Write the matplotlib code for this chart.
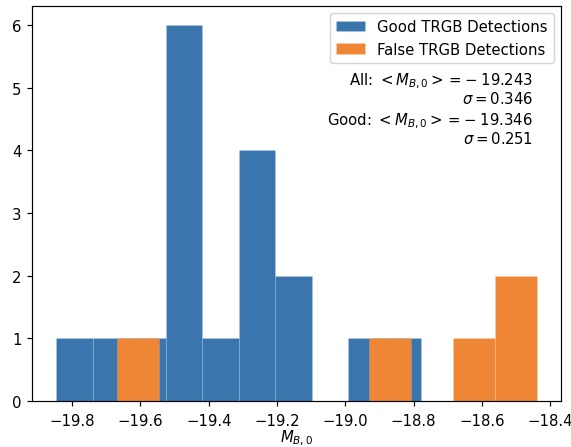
import matplotlib
matplotlib.use("Agg")
import matplotlib.pyplot as plt
import numpy as np

# absolute B-band tip magnitudes, split by detection quality
good_mags = [-19.847, -19.70, -19.58, -19.50, -19.48, -19.47, -19.46, -19.45,
             -19.44, -19.37, -19.29, -19.26, -19.24, -19.22, -19.18, -19.12,
             -18.95, -18.778]
false_mags = [-19.668, -18.87, -18.62, -18.50, -18.439]

all_label = r"All: $<M_{B,0}> = -\;19.243$" + "\n" + r"$\sigma = 0.346$"
good_label = r"Good: $<M_{B,0}> = -\;19.346$" + "\n" + r"$\sigma = 0.251$"

my_dpi = 107
fig = plt.figure(figsize=(571/my_dpi, 448/my_dpi), dpi=my_dpi)
ax = fig.add_axes([32/571, 46/448, 529/571, 395/448])

ax.hist(good_mags, bins=10, color='#3a75ae', edgecolor=(1, 1, 1, 0.15),
        linewidth=0.5, label='Good TRGB Detections')
ax.hist(false_mags, bins=10, color='#ef8636', edgecolor=(1, 1, 1, 0.15),
        linewidth=0.5, label='False TRGB Detections')

ax.text(0.947, 0.792, all_label, transform=ax.transAxes, ha='right', va='center',
        multialignment='right', linespacing=1.0)
ax.text(0.947, 0.69, good_label, transform=ax.transAxes, ha='right', va='center',
        multialignment='right', linespacing=1.0)

ax.tick_params(axis='x', pad=4.5)
ax.set_xlabel(r'$M_{B,0}$', labelpad=0)
ax.legend(loc='upper right')

fig.savefig("out.png", dpi=my_dpi)
